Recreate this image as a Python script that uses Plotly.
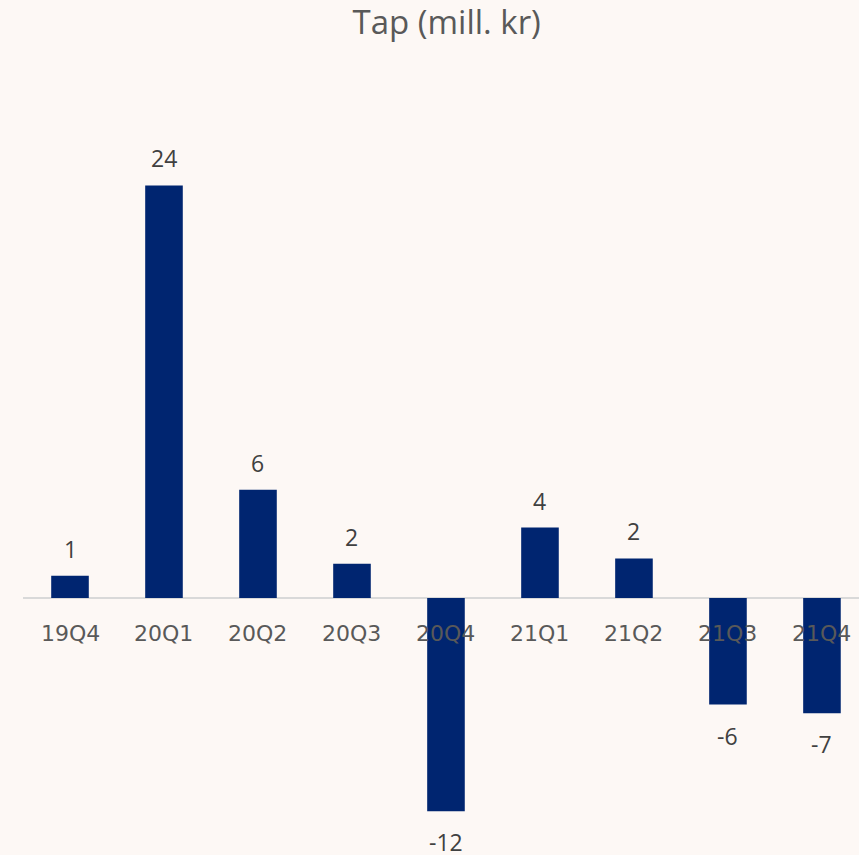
import plotly.graph_objects as go

# ── Data ──────────────────────────────────────────────────────────────────────
quarters = ["19Q4", "20Q1", "20Q2", "20Q3", "20Q4", "21Q1", "21Q2", "21Q3", "21Q4"]
loss = [1.3, 24.0, 6.3, 2.0, -12.4, 4.1, 2.3, -6.2, -6.7]
labels = [f"{round(v):d}" for v in loss]

BAR = "#002570"
GREY = "#595959"
BG = "#fdf8f5"

# y range chosen so the zero line sits ~598px from the top
y_lo, y_hi = -14.95, 31.3

fig = go.Figure(go.Bar(
    x=quarters, y=loss,
    marker=dict(color=BAR, line=dict(width=0)),
    width=0.4,
    hoverinfo="skip",
))

# value labels above / below bars
for q, v, t in zip(quarters, loss, labels):
    fig.add_annotation(
        x=q, y=v, text=t, showarrow=False,
        yshift=27 if v >= 0 else -31,
        font=dict(family="Open Sans", size=23, color="#404040"),
    )

# category labels along the zero line (drawn over the bars, like the source)
for q in quarters:
    fig.add_annotation(
        x=q, y=0, text=q, showarrow=False, yshift=-35,
        font=dict(family="DejaVu Sans", size=22, color=GREY),
    )

fig.update_layout(
    width=859, height=855,
    paper_bgcolor=BG, plot_bgcolor=BG,
    margin=dict(l=23, r=0, t=60, b=0),
    title=dict(text="Tap (mill. kr)", x=0.52, xanchor="center",
               y=0.974, yanchor="middle",
               font=dict(family="Open Sans", size=33, color=GREY)),
    showlegend=False,
    xaxis=dict(range=[-0.5, 8.394], visible=False, showgrid=False,
               zeroline=False),
    yaxis=dict(range=[y_lo, y_hi], showticklabels=False, showgrid=False,
               zeroline=True, zerolinecolor="#d9d9d9", zerolinewidth=2),
)

fig.write_html("out.html", config={"displayModeBar": False},
               post_script="document.body.style.margin='0';")
